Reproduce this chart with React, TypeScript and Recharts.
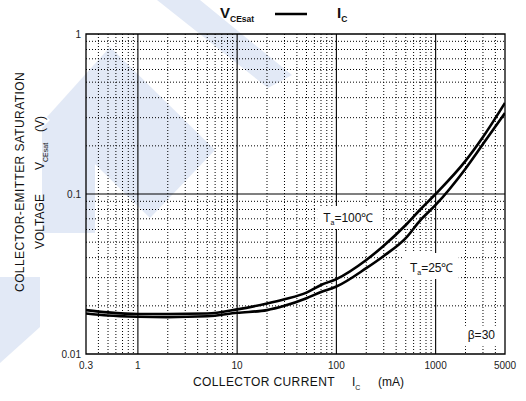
import React from "react";
import { CartesianGrid, Line, LineChart, ReferenceArea, XAxis, YAxis } from "recharts";

// collector current (mA) and saturation voltage (V)
const IC_MA = [0.3, 0.5, 1, 2, 5, 10, 20, 30, 50, 70, 100, 200, 300, 500, 700, 1000, 2000, 3000, 5000];
const VCE_TA100 = [
  0.0188, 0.0182, 0.0178, 0.0178, 0.0179, 0.019, 0.0207, 0.022, 0.0242, 0.027, 0.0294, 0.0387, 0.0475,
  0.064, 0.08, 0.1, 0.161, 0.227, 0.371,
];
const VCE_TA25 = [
  0.0179, 0.0174, 0.0171, 0.017, 0.0172, 0.0181, 0.0188, 0.02, 0.0223, 0.0244, 0.0264, 0.0344, 0.041,
  0.053, 0.0684, 0.0854, 0.144, 0.205, 0.321,
];

const X_TICKS = [0.3, 1, 10, 100, 1000, 5000];
const Y_TICKS = [0.01, 0.1, 1];
const X_MAJOR = [1, 10, 100, 1000];
const Y_MAJOR = [0.1];
const X_MINOR = [
  0.4, 0.5, 0.6, 0.7, 0.8, 0.9, 2, 3, 4, 5, 6, 7, 8, 9, 20, 30, 40, 50, 60, 70, 80, 90, 200, 300, 400, 500,
  600, 700, 800, 900, 2000, 3000, 4000,
];
const Y_MINOR = [0.02, 0.03, 0.04, 0.05, 0.06, 0.07, 0.08, 0.09, 0.2, 0.3, 0.4, 0.5, 0.6, 0.7, 0.8, 0.9];

const data = IC_MA.map((ic, i) => ({ ic, t100: VCE_TA100[i], t25: VCE_TA25[i] }));

const FONT = '"Liberation Sans", Arial, Helvetica, sans-serif';
const INK = "#111";

// light blue logo watermark behind the chart
const WATERMARK = [
  "157,0 200,0 292,75 268,88",
  "47,117 110,47 215,150 150,218",
  "42,128 95,75 95,233 42,233",
  "0,277 40,277 40,327 0,363",
];

function BoxLabel(props: any) {
  const { viewBox, main, sub, rest } = props;
  const { x, y, height } = viewBox;
  return (
    <text x={x + 6} y={y + height - 7} fontFamily={FONT} fontSize={12} fill={INK}>
      {main}
      {sub ? (
        <tspan fontSize={7} dy={3}>
          {sub}
        </tspan>
      ) : null}
      {rest ? <tspan dy={sub ? -3 : 0}>{rest}</tspan> : null}
    </text>
  );
}

export default function App() {
  const tick = { fontSize: 10, fill: "#222", fontFamily: FONT };
  return (
    <div style={{ position: "absolute", left: 0, top: 0, width: 526, height: 401, background: "#fff" }}>
      <svg width={526} height={401} style={{ position: "absolute", left: 0, top: 0 }}>
        {WATERMARK.map((p) => (
          <polygon key={p} points={p} fill="#e2e9f6" />
        ))}
      </svg>
      <div style={{ position: "absolute", left: 0, top: 0 }}>
        <LineChart width={526} height={401} data={data} margin={{ top: 34, right: 21, bottom: 27, left: 46 }}>
          <CartesianGrid
            horizontalValues={Y_MINOR}
            verticalValues={X_MINOR}
            stroke="#000"
            strokeDasharray="1 2"
            strokeWidth={1}
          />
          <CartesianGrid horizontalValues={Y_MAJOR} verticalValues={X_MAJOR} stroke="#000" strokeWidth={1.1} />
          <XAxis
            dataKey="ic"
            type="number"
            scale="log"
            domain={[0.3, 5000]}
            ticks={X_TICKS}
            interval={0}
            allowDataOverflow
            axisLine={false}
            tickLine={false}
            tickSize={0}
            tickMargin={8}
            height={20}
            tick={tick}
          />
          <YAxis
            type="number"
            scale="log"
            domain={[0.01, 1]}
            ticks={Y_TICKS}
            interval={0}
            allowDataOverflow
            axisLine={false}
            tickLine={false}
            tickSize={0}
            tickMargin={5}
            width={40}
            tick={tick}
          />
          <ReferenceArea x1={0.3} x2={5000} y1={0.01} y2={1} fill="none" stroke="#000" strokeWidth={1.3} />
          <ReferenceArea
            x1={64}
            x2={281}
            y1={0.0604}
            y2={0.0841}
            fill="#fff"
            fillOpacity={1}
            stroke="none"
            label={<BoxLabel main="T" sub="a" rest="=100℃" />}
          />
          <ReferenceArea
            x1={479}
            x2={1710}
            y1={0.0294}
            y2={0.0428}
            fill="#fff"
            fillOpacity={1}
            stroke="none"
            label={<BoxLabel main="T" sub="a" rest="=25℃" />}
          />
          <ReferenceArea
            x1={1832}
            x2={4315}
            y1={0.0112}
            y2={0.015}
            fill="#fff"
            fillOpacity={1}
            stroke="none"
            label={<BoxLabel main="β=30" />}
          />
          <Line type="monotone" dataKey="t100" stroke="#000" strokeWidth={2.6} dot={false} isAnimationActive={false} />
          <Line type="monotone" dataKey="t25" stroke="#000" strokeWidth={2.6} dot={false} isAnimationActive={false} />
        </LineChart>
      </div>
      <svg
        width={526}
        height={401}
        style={{ position: "absolute", left: 0, top: 0, pointerEvents: "none" }}
        fontFamily={FONT}
        fill={INK}
      >
        {/* title: VCEsat —— IC */}
        <text x={220} y={18} fontSize={15} fontWeight="bold">
          V<tspan fontSize={8.5} dy={4}>CEsat</tspan>
        </text>
        <line x1={275} x2={307} y1={14} y2={14} stroke="#000" strokeWidth={2.5} />
        <text x={337} y={18} fontSize={15} fontWeight="bold">
          I<tspan fontSize={8.5} dy={4}>C</tspan>
        </text>
        {/* x axis title */}
        <text x={193} y={386} fontSize={12} letterSpacing={0.4}>
          COLLECTOR CURRENT
        </text>
        <text x={352} y={386} fontSize={12}>
          I<tspan fontSize={7} dy={4}>C</tspan>
        </text>
        <text x={378} y={386} fontSize={12}>
          (mA)
        </text>
        {/* y axis title */}
        <g transform="translate(24,182) rotate(-90)">
          <text x={0} y={0} fontSize={12} textAnchor="middle" letterSpacing={0.4}>
            COLLECTOR-EMITTER SATURATION
          </text>
          <text x={-67} y={20} fontSize={12}>
            VOLTAGE
          </text>
          <text x={12} y={20} fontSize={12}>
            V<tspan fontSize={7} dy={4}>CEsat</tspan>
          </text>
          <text x={50} y={20} fontSize={12}>
            (V)
          </text>
        </g>
      </svg>
    </div>
  );
}
